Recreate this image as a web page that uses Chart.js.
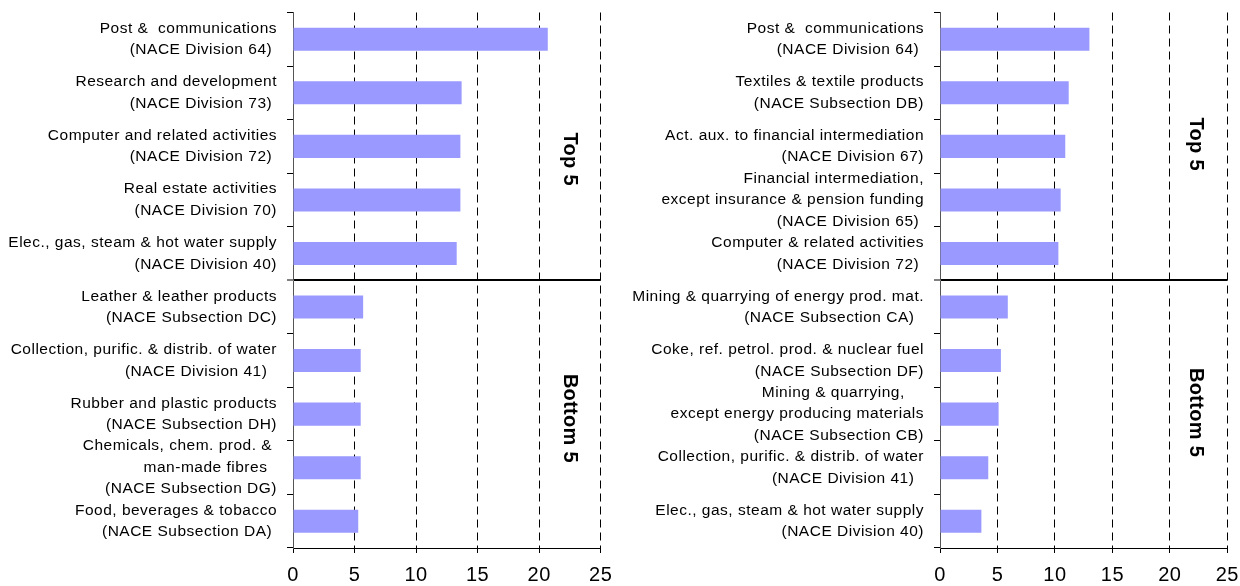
<!DOCTYPE html>
<html>
<head>
<meta charset="utf-8">
<script src="https://cdn.jsdelivr.net/npm/chart.js@4"></script>
<style>
html,body{margin:0;padding:0;background:#fff;width:1240px;height:586px;overflow:hidden}
.box{position:absolute;top:0;width:620px;height:586px}
canvas{display:block}
</style>
</head>
<body>
<div class="box" style="left:0"><canvas id="c1" width="620" height="586"></canvas></div>
<div class="box" style="left:620px"><canvas id="c2" width="620" height="586"></canvas></div>
<script>
// ---- data ----
const xTickValues = [0, 5, 10, 15, 20, 25];

const leftCategories = [
  ["Post &  communications", "(NACE Division 64) "],
  ["Research and development", "(NACE Division 73) "],
  ["Computer and related activities", "(NACE Division 72) "],
  ["Real estate activities", "(NACE Division 70)"],
  ["Elec., gas, steam & hot water supply", "(NACE Division 40)"],
  ["Leather & leather products", "(NACE Subsection DC)"],
  ["Collection, purific. & distrib. of water", "(NACE Division 41)  "],
  ["Rubber and plastic products", "(NACE Subsection DH)"],
  ["Chemicals, chem. prod. & ", "man-made fibres  ", "(NACE Subsection DG)"],
  ["Food, beverages & tobacco", "(NACE Subsection DA) "]
];
const leftValues = [20.7, 13.7, 13.6, 13.6, 13.3, 5.7, 5.5, 5.5, 5.5, 5.3];

const rightCategories = [
  ["Post &  communications", "(NACE Division 64) "],
  ["Textiles & textile products", "(NACE Subsection DB)"],
  ["Act. aux. to financial intermediation", "(NACE Division 67)"],
  ["Financial intermediation,", "except insurance & pension funding", "(NACE Division 65) "],
  ["Computer & related activities", "(NACE Division 72) "],
  ["Mining & quarrying of energy prod. mat.", "(NACE Subsection CA)  "],
  ["Coke, ref. petrol. prod. & nuclear fuel", "(NACE Subsection DF)"],
  ["Mining & quarrying,    ", "except energy producing materials", "(NACE Subsection CB)"],
  ["Collection, purific. & distrib. of water", "(NACE Division 41)  "],
  ["Elec., gas, steam & hot water supply", "(NACE Division 40)"]
];
const rightValues = [13.0, 11.2, 10.9, 10.5, 10.3, 5.9, 5.3, 5.1, 4.2, 3.6];

const sectionLabels = ["Top 5", "Bottom 5"];

// ---- rendering ----
const FONT = "'Liberation Sans', Arial, sans-serif";

const spacingPlugin = {
  id: 'spacing',
  beforeDraw(chart) { chart.ctx.letterSpacing = '0.5px'; }
};

const sectionPlugin = {
  id: 'sectionLabels',
  afterDraw(chart, args, o) {
    const ctx = chart.ctx;
    const xs = chart.scales.x, ys = chart.scales.y;
    (o.items || []).forEach(it => {
      const px = xs.getPixelForValue(it.x);
      const py = ys.getPixelForValue(it.y);
      ctx.save();
      ctx.letterSpacing = '0.3px';
      ctx.translate(px, py);
      ctx.rotate(Math.PI / 2);
      ctx.font = 'bold 20px ' + FONT;
      ctx.fillStyle = '#000';
      ctx.textAlign = 'center';
      ctx.textBaseline = 'middle';
      ctx.fillText(it.text, 0, 0);
      ctx.restore();
    });
  }
};

function makeChart(id, labels, values, cfg) {
  return new Chart(document.getElementById(id), {
    type: 'bar',
    data: {
      labels: labels,
      datasets: [{
        data: values,
        backgroundColor: '#9999FF',
        borderWidth: 0,
        barPercentage: 0.43,
        categoryPercentage: 1
      }]
    },
    options: {
      indexAxis: 'y',
      responsive: false,
      animation: false,
      devicePixelRatio: 1,
      layout: { autoPadding: false, padding: { left: 0, top: 12.5, right: cfg.padRight, bottom: 0 } },
      plugins: {
        legend: { display: false },
        tooltip: { enabled: false },
        title: { display: false },
        sectionLabels: { items: cfg.sections }
      },
      scales: {
        x: {
          type: 'linear',
          min: 0,
          max: 25,
          afterBuildTicks: s => { s.ticks = xTickValues.map(v => ({ value: v })); },
          afterFit: s => { s.height = 38; s.paddingLeft = 0; s.paddingRight = 0; },
          ticks: { color: '#000', font: { family: FONT, size: 20 }, padding: 10, maxRotation: 0, autoSkip: false },
          grid: {
            color: c => (c.tick && c.tick.value === 0) ? 'rgba(0,0,0,0)' : '#000',
            lineWidth: 1,
            tickColor: '#000',
            tickWidth: 1,
            tickLength: 5
          },
          border: {
            display: true,
            color: '#000',
            width: 1,
            dash: c => (c.tick && c.tick.value !== 0) ? [8, 5] : []
          }
        },
        y: {
          afterFit: s => { s.width = cfg.yWidth; s.paddingTop = 0; s.paddingBottom = 0; },
          ticks: { color: '#000', font: { family: FONT, size: 15.5, lineHeight: '21.5px' }, padding: 10, autoSkip: false },
          grid: {
            offset: true,
            color: c => c.index === 5 ? '#000' : 'rgba(0,0,0,0)',
            lineWidth: c => c.index === 5 ? 2 : 1,
            tickColor: '#000',
            tickWidth: 1,
            tickLength: 6
          },
          border: { display: true, color: '#555', width: 1 }
        }
      }
    },
    plugins: [spacingPlugin, sectionPlugin]
  });
}

makeChart('c1', leftCategories, leftValues, {
  yWidth: 293, padRight: 19.3,
  sections: [
    { text: sectionLabels[0], x: 22.5, y: 2.24 },
    { text: sectionLabels[1], x: 22.5, y: 7.08 }
  ]
});

makeChart('c2', rightCategories, rightValues, {
  yWidth: 320, padRight: 12.7,
  sections: [
    { text: sectionLabels[0], x: 22.2, y: 1.96 },
    { text: sectionLabels[1], x: 22.2, y: 6.97 }
  ]
});
</script>
</body>
</html>
